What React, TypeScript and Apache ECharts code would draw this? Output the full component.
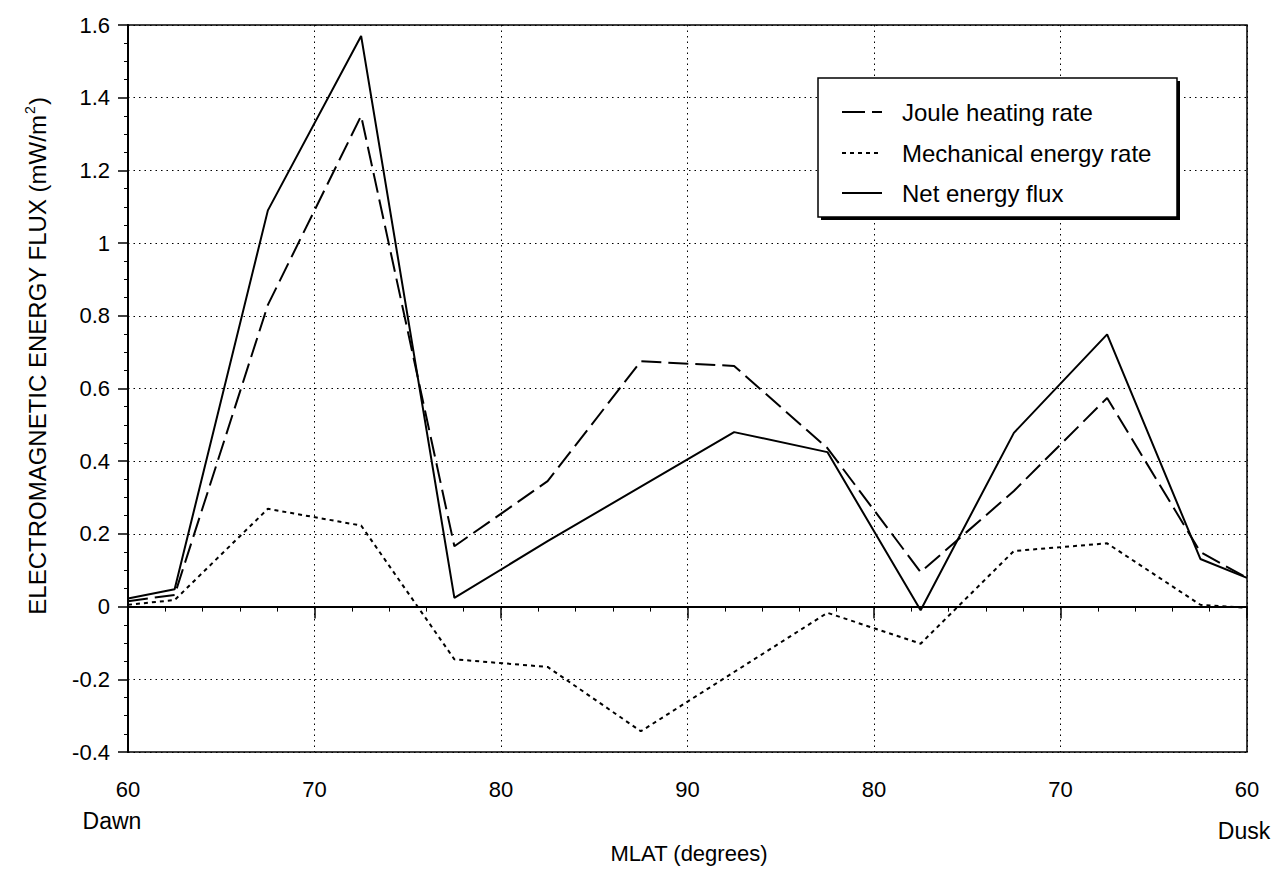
import React, { useEffect, useRef } from "react";
import * as echarts from "echarts";

// Track position along the pass (0 = 60° dawn, 30 = 90°, 60 = 60° dusk)
const xPositions = [0, 2.5, 7.5, 12.5, 17.5, 22.5, 27.5, 32.5, 37.5, 42.5, 47.5, 52.5, 57.5, 60];
const jouleHeating = [0.015, 0.032, 0.83, 1.35, 0.166, 0.345, 0.675, 0.662, 0.436, 0.095, 0.318, 0.574, 0.15, 0.079];
const mechanicalEnergy = [0.005, 0.018, 0.269, 0.223, -0.145, -0.166, -0.343, -0.18, -0.017, -0.102, 0.153, 0.174, 0.005, -0.003];
const netEnergyFlux = [0.022, 0.048, 1.09, 1.57, 0.024, 0.18, 0.33, 0.48, 0.425, -0.01, 0.478, 0.749, 0.131, 0.079];
const xTickLabels = ["60", "70", "80", "90", "80", "70", "60"];
const seriesNames = ["Joule heating rate", "Mechanical energy rate", "Net energy flux"];

const FONT = "'Liberation Sans', Arial, Helvetica, sans-serif";

export default function App() {
  const ref = useRef<HTMLDivElement>(null);
  useEffect(() => {
    if (!ref.current) return;
    const chart = echarts.init(ref.current, undefined, { renderer: "svg" });
    const pts = (vals: number[]) => xPositions.map((x, i) => [x, vals[i]]);
    const gridLine = { show: true, lineStyle: { color: "#000", width: 1, type: [1.5, 4] as any } };
    const legendRows = [112, 153, 193];
    const dashes: any[] = [[23, 7], [4, 4], null];
    const legendGraphics: any[] = [
      { type: "rect", z: 100, shape: { x: 821, y: 81, width: 359, height: 139 }, style: { fill: "#000" } },
      { type: "rect", z: 101, shape: { x: 818, y: 78, width: 359, height: 139 }, style: { fill: "#fff", stroke: "#000", lineWidth: 1.5 } },
    ];
    seriesNames.forEach((name, i) => {
      legendGraphics.push({
        type: "line", z: 102,
        shape: { x1: 842, y1: legendRows[i], x2: 882, y2: legendRows[i] },
        style: { stroke: "#000", lineWidth: 2, lineDash: dashes[i] || undefined },
      });
      legendGraphics.push({
        type: "text", z: 102, x: 902, y: legendRows[i],
        style: { text: name, fontSize: 24, fontFamily: FONT, fill: "#000", verticalAlign: "middle", align: "left" },
      });
    });
    chart.setOption({
      animation: false,
      backgroundColor: "#fff",
      grid: { left: 128, top: 25, right: 38, bottom: 119, show: true, borderColor: "#000", borderWidth: 1.5 },
      xAxis: {
        type: "value", min: 0, max: 60, interval: 10,
        axisLine: { lineStyle: { color: "#000", width: 2 } },
        axisTick: { length: 12, lineStyle: { color: "#000", width: 1.5 } },
        minorTick: { show: true, splitNumber: 5, length: 5, lineStyle: { color: "#000", width: 1 } },
        axisLabel: {
          margin: 26, fontSize: 22, fontFamily: FONT, color: "#000",
          formatter: (v: number) => xTickLabels[Math.round(v / 10)],
        },
        splitLine: gridLine,
      },
      yAxis: {
        type: "value", min: -0.4, max: 1.6, interval: 0.2,
        axisLine: { show: true, lineStyle: { color: "#000", width: 2 } },
        axisTick: { show: true, length: 10, lineStyle: { color: "#000", width: 1.5 } },
        minorTick: { show: true, splitNumber: 4, length: 4, lineStyle: { color: "#000", width: 1 } },
        axisLabel: { margin: 18, fontSize: 22, fontFamily: FONT, color: "#000" },
        splitLine: gridLine,
      },
      series: [
        { name: seriesNames[0], type: "line", data: pts(jouleHeating), showSymbol: false, symbol: "none",
          lineStyle: { color: "#000", width: 2, type: [20, 7] } },
        { name: seriesNames[1], type: "line", data: pts(mechanicalEnergy), showSymbol: false, symbol: "none",
          lineStyle: { color: "#000", width: 2, type: [4, 4] } },
        { name: seriesNames[2], type: "line", data: pts(netEnergyFlux), showSymbol: false, symbol: "none",
          lineStyle: { color: "#000", width: 2 } },
      ],
      graphic: [
        {
          type: "text", x: 37, y: 356, rotation: Math.PI / 2,
          style: {
            text: "{a|ELECTROMAGNETIC ENERGY FLUX (mW/m}{s|2}{a|)}",
            align: "center", verticalAlign: "middle",
            rich: {
              a: { fontSize: 24, fontFamily: FONT, fill: "#000", lineHeight: 28 },
              s: { fontSize: 14, fontFamily: FONT, fill: "#000", lineHeight: 28, verticalAlign: "top", padding: [0, 1, 0, 1] },
            },
          },
        },
        { type: "text", x: 112, y: 821, style: { text: "Dawn", fontSize: 23, fontFamily: FONT, fill: "#000", align: "center", verticalAlign: "middle" } },
        { type: "text", x: 1244, y: 831, style: { text: "Dusk", fontSize: 23, fontFamily: FONT, fill: "#000", align: "center", verticalAlign: "middle" } },
        { type: "text", x: 689, y: 853, style: { text: "MLAT (degrees)", fontSize: 22, fontFamily: FONT, fill: "#000", align: "center", verticalAlign: "middle" } },
        ...legendGraphics,
      ],
    });
    return () => chart.dispose();
  }, []);
  return (
    <div
      ref={ref}
      style={{ position: "fixed", left: 0, top: 0, width: 1285, height: 871, background: "#fff" }}
    />
  );
}
